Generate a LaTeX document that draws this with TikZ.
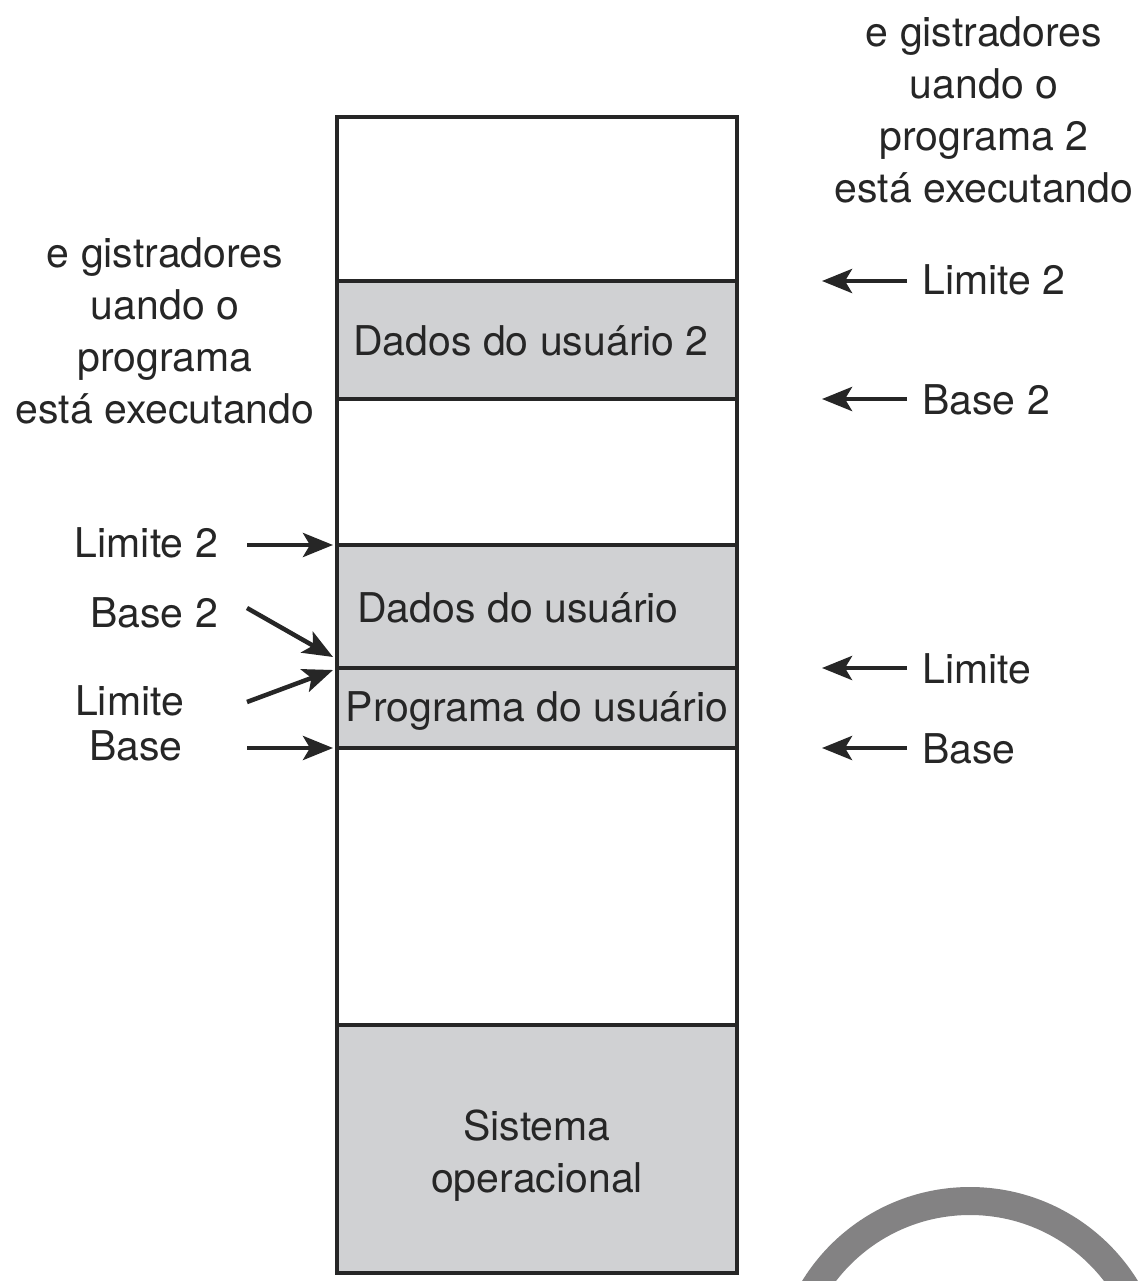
\documentclass[tikz,border=0pt]{standalone}
\usepackage{fontspec}
\setmainfont{TeX Gyre Heros}
\usetikzlibrary{arrows.meta}
\definecolor{segfill}{HTML}{D0D1D3}
\definecolor{ink}{HTML}{262626}
\definecolor{ringcol}{HTML}{838283}
\tikzset{
  lbl/.style={font=\fontsize{41}{52}\selectfont, text=ink, inner sep=0pt},
  boxline/.style={draw=ink, line width=4.5pt},
  arr/.style={draw=ink, line width=4.5pt, -{Stealth[length=30pt,width=24pt,inset=7pt]}},
}
\begin{document}
\begin{tikzpicture}[x=1pt,y=-1pt]
\useasboundingbox (0,0) rectangle (1143,1281);
\fill[white] (0,0) rectangle (1143,1281);
% ring at bottom right
\begin{scope}
\clip (0,0) rectangle (1143,1281);
\draw[ringcol, line width=28pt] (970,1384) circle (183);
\end{scope}
% memory column
\fill[segfill] (337,281) rectangle (737,399);
\fill[segfill] (337,545) rectangle (737,748);
\fill[segfill] (337,1025) rectangle (737,1273);
\draw[boxline] (337,117) rectangle (737,1273);
\foreach \yy in {281,399,545,668,748,1025}
  \draw[boxline] (337,\yy) -- (737,\yy);
% segment texts
\node[lbl, anchor=base] (d2) at (531,355) {Dados do usuário 2};
\node[lbl, anchor=base] (d1) at (518,622) {Dados do usuário};
\node[lbl, anchor=base] (p1) at (537,721) {Programa do usuário};
\node[lbl, anchor=base] (so1) at (537,1140) {Sistema};
\node[lbl, anchor=base] (so2) at (537,1192) {operacional};
% register blocks
\node[lbl, align=center, anchor=base] (regL) at (165,423)
  {e gistradores\\uando o\\programa\hspace*{40pt}\\está executando};
\node[lbl, align=center, anchor=base] (regR) at (984,203)
  {e gistradores\\uando o\\programa 2\\está executando};
% right labels
\node[lbl, anchor=base west] (rl2) at (922,294) {Limite 2};
\node[lbl, anchor=base west] (rb2) at (922,414) {Base 2};
\node[lbl, anchor=base west] (rl1) at (922,683) {Limite};
\node[lbl, anchor=base west] (rb1) at (922,763) {Base};
% left labels
\node[lbl, anchor=base east] (ll2) at (218,557) {Limite 2};
\node[lbl, anchor=base east] (lb2) at (218,627) {Base 2};
\node[lbl, anchor=base west] (ll1) at (75,715) {Limite};
\node[lbl, anchor=base west] (lb1) at (89,760) {Base};
% arrow coordinates
\coordinate (rt1) at (907,281); \coordinate (rh1) at (822,281);
\coordinate (rt2) at (907,399); \coordinate (rh2) at (822,399);
\coordinate (rt3) at (907,668); \coordinate (rh3) at (822,668);
\coordinate (rt4) at (907,748); \coordinate (rh4) at (822,748);
\coordinate (lt1) at (247,545); \coordinate (lh1) at (333,545);
\coordinate (lt2) at (247,608); \coordinate (lh2) at (333,657);
\coordinate (lt3) at (247,702); \coordinate (lh3) at (333,670);
\coordinate (lt4) at (247,748); \coordinate (lh4) at (333,748);
\draw[arr] (rt1) -- (rh1);
\draw[arr] (rt2) -- (rh2);
\draw[arr] (rt3) -- (rh3);
\draw[arr] (rt4) -- (rh4);
\draw[arr] (lt1) -- (lh1);
\draw[arr] (lt2) -- (lh2);
\draw[arr] (lt3) -- (lh3);
\draw[arr] (lt4) -- (lh4);
\end{tikzpicture}
\end{document}
